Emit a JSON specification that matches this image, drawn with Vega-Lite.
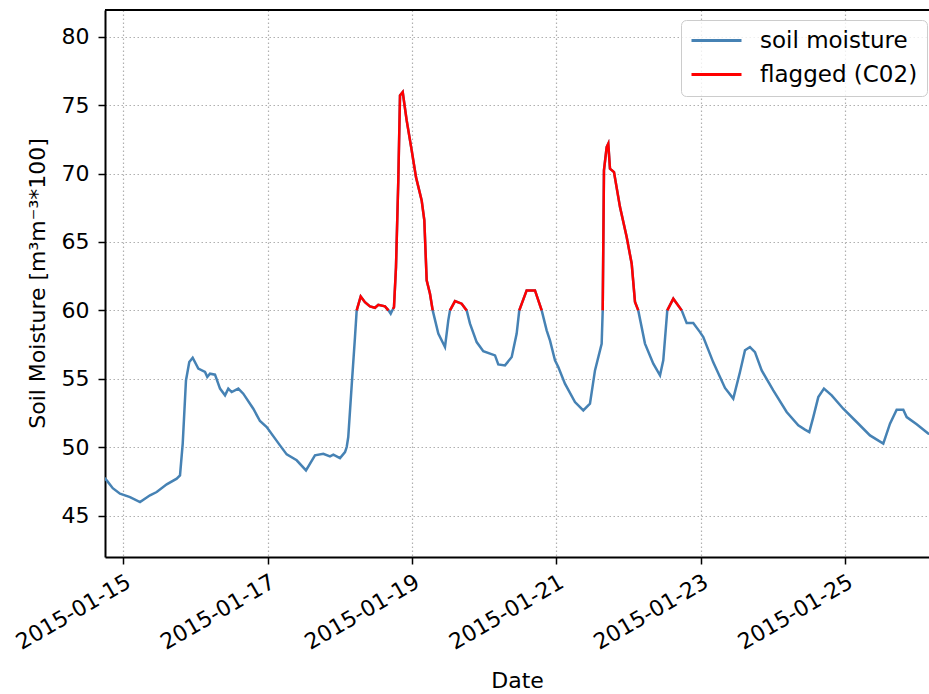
{
  "$schema": "https://vega.github.io/schema/vega-lite/v6.json",
  "autosize": {"type": "none"},
  "padding": {"left": 105, "top": 10, "right": 0, "bottom": 137},
  "width": 824,
  "height": 547,
  "background": "white",
  "config": {
    "view": {"stroke": null},
    "font": "DejaVu Sans",
    "axis": {
      "labelFont": "DejaVu Sans", "titleFont": "DejaVu Sans",
      "labelFontSize": 22, "titleFontSize": 22,
      "labelColor": "#000000", "titleColor": "#000000",
      "titleFontWeight": "normal",
      "domainColor": "#000000", "domainWidth": 2,
      "tickColor": "#000000", "tickWidth": 1.5, "tickSize": 7,
      "gridColor": "#b0b0b0", "gridDash": [1.5, 2.5], "gridWidth": 1.2
    }
  },
  "datasets": {
    "main": [
      {"t": "2015-01-14T17:30", "v": 47.8},
      {"t": "2015-01-14T18:29", "v": 47.57},
      {"t": "2015-01-14T20:30", "v": 47.0},
      {"t": "2015-01-14T22:54", "v": 46.6},
      {"t": "2015-01-15T02:14", "v": 46.35},
      {"t": "2015-01-15T05:33", "v": 45.99},
      {"t": "2015-01-15T08:53", "v": 46.48},
      {"t": "2015-01-15T11:06", "v": 46.72},
      {"t": "2015-01-15T14:26", "v": 47.28},
      {"t": "2015-01-15T17:45", "v": 47.7},
      {"t": "2015-01-15T18:51", "v": 47.94},
      {"t": "2015-01-15T19:45", "v": 50.26},
      {"t": "2015-01-15T20:50", "v": 54.88},
      {"t": "2015-01-15T21:56", "v": 56.22},
      {"t": "2015-01-15T23:04", "v": 56.54},
      {"t": "2015-01-16T00:56", "v": 55.74},
      {"t": "2015-01-16T03:10", "v": 55.5},
      {"t": "2015-01-16T03:55", "v": 55.13},
      {"t": "2015-01-16T04:49", "v": 55.37},
      {"t": "2015-01-16T06:29", "v": 55.3},
      {"t": "2015-01-16T08:09", "v": 54.28},
      {"t": "2015-01-16T09:49", "v": 53.79},
      {"t": "2015-01-16T10:54", "v": 54.28},
      {"t": "2015-01-16T12:02", "v": 54.03},
      {"t": "2015-01-16T14:14", "v": 54.28},
      {"t": "2015-01-16T15:53", "v": 53.91},
      {"t": "2015-01-16T19:13", "v": 52.81},
      {"t": "2015-01-16T21:26", "v": 51.91},
      {"t": "2015-01-16T23:40", "v": 51.47},
      {"t": "2015-01-17T04:05", "v": 50.13},
      {"t": "2015-01-17T06:19", "v": 49.47},
      {"t": "2015-01-17T09:38", "v": 49.04},
      {"t": "2015-01-17T12:44", "v": 48.3},
      {"t": "2015-01-17T15:43", "v": 49.4},
      {"t": "2015-01-17T18:29", "v": 49.52},
      {"t": "2015-01-17T20:43", "v": 49.33},
      {"t": "2015-01-17T21:49", "v": 49.45},
      {"t": "2015-01-18T00:02", "v": 49.2},
      {"t": "2015-01-18T01:42", "v": 49.64},
      {"t": "2015-01-18T02:16", "v": 50.01},
      {"t": "2015-01-18T02:47", "v": 50.74},
      {"t": "2015-01-18T03:55", "v": 54.5},
      {"t": "2015-01-18T05:01", "v": 58.05},
      {"t": "2015-01-18T05:35", "v": 60.0},
      {"t": "2015-01-18T06:55", "v": 61.02},
      {"t": "2015-01-18T08:20", "v": 60.6},
      {"t": "2015-01-18T10:00", "v": 60.29},
      {"t": "2015-01-18T11:40", "v": 60.19},
      {"t": "2015-01-18T12:46", "v": 60.41},
      {"t": "2015-01-18T14:59", "v": 60.29},
      {"t": "2015-01-18T16:09", "v": 60.0},
      {"t": "2015-01-18T16:53", "v": 59.76},
      {"t": "2015-01-18T17:39", "v": 60.1},
      {"t": "2015-01-18T17:59", "v": 60.24},
      {"t": "2015-01-18T18:39", "v": 63.17},
      {"t": "2015-01-18T19:25", "v": 69.5},
      {"t": "2015-01-18T19:59", "v": 75.72},
      {"t": "2015-01-18T20:53", "v": 75.96},
      {"t": "2015-01-18T22:12", "v": 73.89},
      {"t": "2015-01-18T23:52", "v": 71.7},
      {"t": "2015-01-19T01:18", "v": 69.74},
      {"t": "2015-01-19T03:11", "v": 68.04},
      {"t": "2015-01-19T04:04", "v": 66.58},
      {"t": "2015-01-19T04:51", "v": 62.19},
      {"t": "2015-01-19T05:57", "v": 61.22},
      {"t": "2015-01-19T06:51", "v": 60.0},
      {"t": "2015-01-19T08:43", "v": 58.3},
      {"t": "2015-01-19T10:56", "v": 57.32},
      {"t": "2015-01-19T12:02", "v": 59.27},
      {"t": "2015-01-19T12:36", "v": 60.0},
      {"t": "2015-01-19T14:16", "v": 60.68},
      {"t": "2015-01-19T16:29", "v": 60.49},
      {"t": "2015-01-19T18:09", "v": 60.0},
      {"t": "2015-01-19T19:15", "v": 59.03},
      {"t": "2015-01-19T21:28", "v": 57.68},
      {"t": "2015-01-19T23:40", "v": 57.02},
      {"t": "2015-01-20T03:34", "v": 56.71},
      {"t": "2015-01-20T04:39", "v": 56.05},
      {"t": "2015-01-20T06:53", "v": 55.98},
      {"t": "2015-01-20T09:07", "v": 56.59},
      {"t": "2015-01-20T10:46", "v": 58.3},
      {"t": "2015-01-20T11:38", "v": 60.0},
      {"t": "2015-01-20T14:05", "v": 61.46},
      {"t": "2015-01-20T16:51", "v": 61.46},
      {"t": "2015-01-20T19:05", "v": 60.0},
      {"t": "2015-01-20T20:44", "v": 58.54},
      {"t": "2015-01-20T21:50", "v": 57.81},
      {"t": "2015-01-20T23:30", "v": 56.35},
      {"t": "2015-01-21T00:36", "v": 55.86},
      {"t": "2015-01-21T02:49", "v": 54.64},
      {"t": "2015-01-21T06:09", "v": 53.3},
      {"t": "2015-01-21T08:55", "v": 52.69},
      {"t": "2015-01-21T11:08", "v": 53.18},
      {"t": "2015-01-21T12:48", "v": 55.61},
      {"t": "2015-01-21T15:01", "v": 57.56},
      {"t": "2015-01-21T15:22", "v": 60.0},
      {"t": "2015-01-21T15:47", "v": 70.23},
      {"t": "2015-01-21T16:41", "v": 71.94},
      {"t": "2015-01-21T17:13", "v": 72.19},
      {"t": "2015-01-21T17:47", "v": 70.36},
      {"t": "2015-01-21T19:07", "v": 70.11},
      {"t": "2015-01-21T21:07", "v": 67.55},
      {"t": "2015-01-21T23:20", "v": 65.36},
      {"t": "2015-01-22T01:00", "v": 63.41},
      {"t": "2015-01-22T02:06", "v": 60.61},
      {"t": "2015-01-22T03:11", "v": 60.0},
      {"t": "2015-01-22T05:25", "v": 57.57},
      {"t": "2015-01-22T08:11", "v": 56.1},
      {"t": "2015-01-22T10:25", "v": 55.25},
      {"t": "2015-01-22T11:30", "v": 56.35},
      {"t": "2015-01-22T12:50", "v": 60.0},
      {"t": "2015-01-22T14:50", "v": 60.85},
      {"t": "2015-01-22T17:37", "v": 60.0},
      {"t": "2015-01-22T19:17", "v": 59.07},
      {"t": "2015-01-22T21:28", "v": 59.07},
      {"t": "2015-01-22T23:42", "v": 58.41},
      {"t": "2015-01-23T00:48", "v": 58.05},
      {"t": "2015-01-23T04:07", "v": 56.2},
      {"t": "2015-01-23T08:01", "v": 54.33},
      {"t": "2015-01-23T10:46", "v": 53.55},
      {"t": "2015-01-23T13:00", "v": 55.5},
      {"t": "2015-01-23T14:40", "v": 57.08},
      {"t": "2015-01-23T16:19", "v": 57.32},
      {"t": "2015-01-23T17:59", "v": 56.95},
      {"t": "2015-01-23T20:13", "v": 55.61},
      {"t": "2015-01-24T00:04", "v": 54.15},
      {"t": "2015-01-24T04:31", "v": 52.57},
      {"t": "2015-01-24T08:23", "v": 51.59},
      {"t": "2015-01-24T10:36", "v": 51.28},
      {"t": "2015-01-24T12:02", "v": 51.1},
      {"t": "2015-01-24T13:22", "v": 52.2},
      {"t": "2015-01-24T15:02", "v": 53.66},
      {"t": "2015-01-24T16:55", "v": 54.28},
      {"t": "2015-01-24T19:29", "v": 53.79},
      {"t": "2015-01-24T23:20", "v": 52.81},
      {"t": "2015-01-25T03:47", "v": 51.84},
      {"t": "2015-01-25T08:13", "v": 50.86},
      {"t": "2015-01-25T12:38", "v": 50.26},
      {"t": "2015-01-25T14:52", "v": 51.72},
      {"t": "2015-01-25T17:05", "v": 52.74},
      {"t": "2015-01-25T19:17", "v": 52.74},
      {"t": "2015-01-25T20:25", "v": 52.2},
      {"t": "2015-01-25T23:44", "v": 51.67},
      {"t": "2015-01-26T03:35", "v": 50.99},
      {"t": "2015-01-26T06:00", "v": 50.9}
    ],
    "flag": [
      {"seg": 1, "t": "2015-01-18T05:35", "v": 60.0},
      {"seg": 1, "t": "2015-01-18T06:55", "v": 61.02},
      {"seg": 1, "t": "2015-01-18T08:20", "v": 60.6},
      {"seg": 1, "t": "2015-01-18T10:00", "v": 60.29},
      {"seg": 1, "t": "2015-01-18T11:40", "v": 60.19},
      {"seg": 1, "t": "2015-01-18T12:46", "v": 60.41},
      {"seg": 1, "t": "2015-01-18T14:59", "v": 60.29},
      {"seg": 1, "t": "2015-01-18T16:09", "v": 60.0},
      {"seg": 2, "t": "2015-01-18T17:39", "v": 60.1},
      {"seg": 2, "t": "2015-01-18T17:59", "v": 60.24},
      {"seg": 2, "t": "2015-01-18T18:39", "v": 63.17},
      {"seg": 2, "t": "2015-01-18T19:25", "v": 69.5},
      {"seg": 2, "t": "2015-01-18T19:59", "v": 75.72},
      {"seg": 2, "t": "2015-01-18T20:53", "v": 75.96},
      {"seg": 2, "t": "2015-01-18T22:12", "v": 73.89},
      {"seg": 2, "t": "2015-01-18T23:52", "v": 71.7},
      {"seg": 2, "t": "2015-01-19T01:18", "v": 69.74},
      {"seg": 2, "t": "2015-01-19T03:11", "v": 68.04},
      {"seg": 2, "t": "2015-01-19T04:04", "v": 66.58},
      {"seg": 2, "t": "2015-01-19T04:51", "v": 62.19},
      {"seg": 2, "t": "2015-01-19T05:57", "v": 61.22},
      {"seg": 2, "t": "2015-01-19T06:51", "v": 60.0},
      {"seg": 3, "t": "2015-01-19T12:36", "v": 60.0},
      {"seg": 3, "t": "2015-01-19T14:16", "v": 60.68},
      {"seg": 3, "t": "2015-01-19T16:29", "v": 60.49},
      {"seg": 3, "t": "2015-01-19T18:09", "v": 60.0},
      {"seg": 4, "t": "2015-01-20T11:38", "v": 60.0},
      {"seg": 4, "t": "2015-01-20T14:05", "v": 61.46},
      {"seg": 4, "t": "2015-01-20T16:51", "v": 61.46},
      {"seg": 4, "t": "2015-01-20T19:05", "v": 60.0},
      {"seg": 5, "t": "2015-01-21T15:22", "v": 60.0},
      {"seg": 5, "t": "2015-01-21T15:47", "v": 70.23},
      {"seg": 5, "t": "2015-01-21T16:41", "v": 71.94},
      {"seg": 5, "t": "2015-01-21T17:13", "v": 72.19},
      {"seg": 5, "t": "2015-01-21T17:47", "v": 70.36},
      {"seg": 5, "t": "2015-01-21T19:07", "v": 70.11},
      {"seg": 5, "t": "2015-01-21T21:07", "v": 67.55},
      {"seg": 5, "t": "2015-01-21T23:20", "v": 65.36},
      {"seg": 5, "t": "2015-01-22T01:00", "v": 63.41},
      {"seg": 5, "t": "2015-01-22T02:06", "v": 60.61},
      {"seg": 5, "t": "2015-01-22T03:11", "v": 60.0},
      {"seg": 6, "t": "2015-01-22T12:50", "v": 60.0},
      {"seg": 6, "t": "2015-01-22T14:50", "v": 60.85},
      {"seg": 6, "t": "2015-01-22T17:37", "v": 60.0}
    ]
  },
  "layer": [
    {
      "data": {"name": "main"},
      "mark": {"type": "line", "strokeWidth": 2.5, "clip": true},
      "encoding": {
        "x": {
          "field": "t", "type": "temporal",
          "scale": {"domain": [
            {"year": 2015, "month": 1, "date": 14, "hours": 17, "minutes": 55},
            {"year": 2015, "month": 1, "date": 26, "hours": 3, "minutes": 50}
          ]},
          "axis": {
            "title": "Date",
            "format": "%Y-%m-%d",
            "values": [
              {"year": 2015, "month": 1, "date": 15},
              {"year": 2015, "month": 1, "date": 17},
              {"year": 2015, "month": 1, "date": 19},
              {"year": 2015, "month": 1, "date": 21},
              {"year": 2015, "month": 1, "date": 23},
              {"year": 2015, "month": 1, "date": 25}
            ],
            "labelAngle": -30, "labelAlign": "right", "labelBaseline": "top",
            "labelPadding": 7, "labelDx": -12,
            "titleX": 412, "titleY": 123, "titleBaseline": "middle", "titleAlign": "center"
          }
        },
        "y": {
          "field": "v", "type": "quantitative",
          "scale": {"domain": [41.97, 81.96], "nice": false, "zero": false},
          "axis": {
            "title": "Soil Moisture [m³m⁻³*100]",
            "values": [45, 50, 55, 60, 65, 70, 75, 80],
            "labelPadding": 9,
            "titleX": -68, "titleY": 273, "titleAngle": -90,
            "titleAlign": "center", "titleBaseline": "middle"
          }
        },
        "color": {
          "datum": "soil moisture",
          "scale": {"domain": ["soil moisture", "flagged (C02)"], "range": ["#4682b4", "#ff0000"]},
          "legend": {
            "title": null,
            "orient": "none", "legendX": 576, "legendY": 10,
            "symbolType": "M-1,0H4", "symbolSize": 400, "symbolStrokeWidth": 3,
            "labelFont": "DejaVu Sans", "labelFontSize": 23, "labelColor": "#000000",
            "labelOffset": 47, "rowPadding": 10,
            "padding": 9, "strokeColor": "#cccccc", "fillColor": "rgba(255,255,255,0.8)",
            "cornerRadius": 5
          }
        }
      }
    },
    {
      "data": {"name": "flag"},
      "mark": {"type": "line", "strokeWidth": 2.5, "clip": true},
      "encoding": {
        "x": {"field": "t", "type": "temporal"},
        "y": {"field": "v", "type": "quantitative"},
        "detail": {"field": "seg", "type": "nominal"},
        "color": {"datum": "flagged (C02)"}
      }
    },
    {
      "data": {"values": [{}]},
      "mark": {"type": "rule", "color": "#000000", "strokeWidth": 2},
      "encoding": {
        "y": {"datum": 81.96, "type": "quantitative"}
      }
    }
  ]
}
